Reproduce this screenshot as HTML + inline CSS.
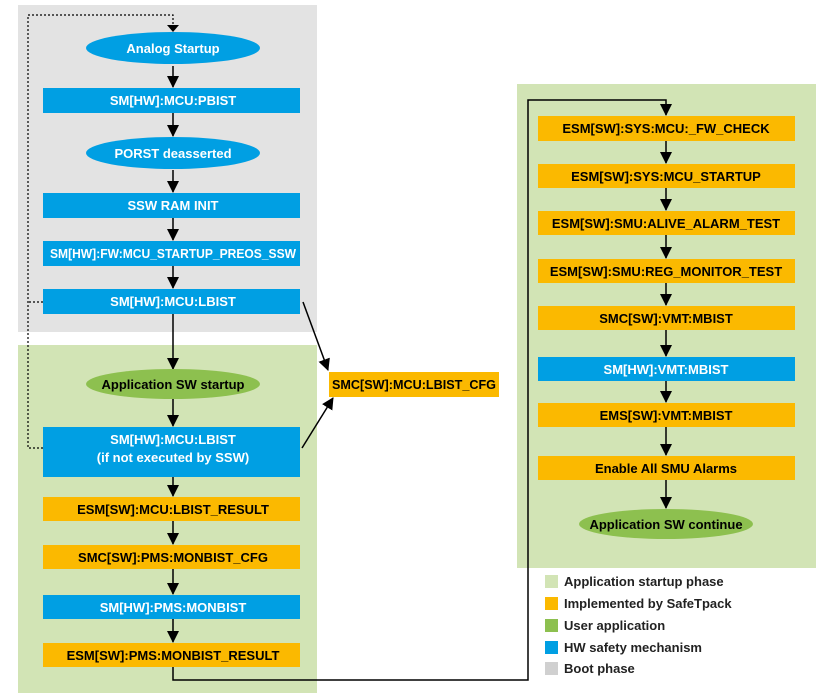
<!DOCTYPE html>
<html><head><meta charset="utf-8"><style>
html,body{margin:0;padding:0;background:#fff;width:827px;height:700px;overflow:hidden}
text{font-family:"Liberation Sans Narrow","Liberation Sans",sans-serif;font-weight:bold;font-size:13px}
.w{fill:#fff}.b{fill:#000}
.lg{font-family:"Liberation Sans",sans-serif;font-size:13px;font-weight:bold;fill:#222}
</style></head><body>
<svg width="827" height="700" viewBox="0 0 827 700" xmlns="http://www.w3.org/2000/svg">
<defs><marker id="a" markerWidth="12" markerHeight="12" refX="11" refY="6" orient="auto" markerUnits="userSpaceOnUse"><path d="M0,0 L12,6 L0,12 z" fill="#000"/></marker></defs>
<rect x="18" y="5" width="299" height="327" fill="#e3e3e3"/>
<rect x="18" y="345" width="299" height="348" fill="#d2e4b5"/>
<rect x="517" y="84" width="299" height="484" fill="#d2e4b5"/>
<g stroke="#000" stroke-width="1.5" fill="none" marker-end="url(#a)">
<line x1="173" y1="66" x2="173" y2="87"/>
<line x1="173" y1="113" x2="173" y2="136"/>
<line x1="173" y1="170" x2="173" y2="192"/>
<line x1="173" y1="218" x2="173" y2="240"/>
<line x1="173" y1="266" x2="173" y2="288"/>
<line x1="173" y1="314" x2="173" y2="369"/>
<line x1="173" y1="399" x2="173" y2="426"/>
<line x1="173" y1="477" x2="173" y2="496"/>
<line x1="173" y1="521" x2="173" y2="544"/>
<line x1="173" y1="569" x2="173" y2="594"/>
<line x1="173" y1="619" x2="173" y2="642"/>
<line x1="303" y1="302" x2="328" y2="370"/>
<line x1="302" y1="448" x2="333" y2="398"/>
<polyline points="173,667 173,680 528,680 528,100 666,100 666,115"/>
<line x1="666" y1="141" x2="666" y2="163"/>
<line x1="666" y1="188" x2="666" y2="210"/>
<line x1="666" y1="235" x2="666" y2="258"/>
<line x1="666" y1="283" x2="666" y2="305"/>
<line x1="666" y1="330" x2="666" y2="356"/>
<line x1="666" y1="381" x2="666" y2="402"/>
<line x1="666" y1="427" x2="666" y2="455"/>
<line x1="666" y1="480" x2="666" y2="508"/>
</g>
<g stroke="#000" stroke-width="1.2" fill="none" stroke-dasharray="2,2">
<polyline points="43,302 28,302"/>
<polyline points="43,448 28,448 28,15 173,15 173,26"/>
</g>
<path d="M167,25 L179,25 L173,32 z" fill="#000"/>
<g fill="#009fe3">
<ellipse cx="173" cy="48" rx="87" ry="16"/>
<rect x="43" y="88" width="257" height="25"/>
<ellipse cx="173" cy="153" rx="87" ry="16"/>
<rect x="43" y="193" width="257" height="25"/>
<rect x="43" y="241" width="257" height="25"/>
<rect x="43" y="289" width="257" height="25"/>
<rect x="43" y="427" width="257" height="50"/>
<rect x="43" y="595" width="257" height="24"/>
<rect x="538" y="357" width="257" height="24"/>
</g>
<ellipse cx="173" cy="384" rx="87" ry="15" fill="#8dc04f"/>
<ellipse cx="666" cy="524" rx="87" ry="15" fill="#8dc04f"/>
<g fill="#fbb900">
<rect x="43" y="497" width="257" height="24"/>
<rect x="43" y="545" width="257" height="24"/>
<rect x="43" y="643" width="257" height="24"/>
<rect x="329" y="372" width="170" height="25"/>
<rect x="538" y="116" width="257" height="25"/>
<rect x="538" y="164" width="257" height="24"/>
<rect x="538" y="211" width="257" height="24"/>
<rect x="538" y="259" width="257" height="24"/>
<rect x="538" y="306" width="257" height="24"/>
<rect x="538" y="403" width="257" height="24"/>
<rect x="538" y="456" width="257" height="24"/>
</g>
<g text-anchor="middle">
<text class="w" x="173" y="53">Analog Startup</text>
<text class="w" x="173" y="105">SM[HW]:MCU:PBIST</text>
<text class="w" x="173" y="158">PORST deasserted</text>
<text class="w" x="173" y="210">SSW RAM INIT</text>
<text class="w" x="173" y="258" textLength="246" lengthAdjust="spacingAndGlyphs">SM[HW]:FW:MCU_STARTUP_PREOS_SSW</text>
<text class="w" x="173" y="306">SM[HW]:MCU:LBIST</text>
<text class="b" x="173" y="389">Application SW startup</text>
<text class="w" x="173" y="444">SM[HW]:MCU:LBIST</text>
<text class="w" x="173" y="462">(if not executed by SSW)</text>
<text class="b" x="173" y="514">ESM[SW]:MCU:LBIST_RESULT</text>
<text class="b" x="173" y="562">SMC[SW]:PMS:MONBIST_CFG</text>
<text class="w" x="173" y="612">SM[HW]:PMS:MONBIST</text>
<text class="b" x="173" y="660">ESM[SW]:PMS:MONBIST_RESULT</text>
<text class="b" x="414" y="389" textLength="164" lengthAdjust="spacingAndGlyphs">SMC[SW]:MCU:LBIST_CFG</text>
<text class="b" x="666" y="133">ESM[SW]:SYS:MCU:_FW_CHECK</text>
<text class="b" x="666" y="181">ESM[SW]:SYS:MCU_STARTUP</text>
<text class="b" x="666" y="228">ESM[SW]:SMU:ALIVE_ALARM_TEST</text>
<text class="b" x="666" y="276">ESM[SW]:SMU:REG_MONITOR_TEST</text>
<text class="b" x="666" y="323">SMC[SW]:VMT:MBIST</text>
<text class="w" x="666" y="374">SM[HW]:VMT:MBIST</text>
<text class="b" x="666" y="420">EMS[SW]:VMT:MBIST</text>
<text class="b" x="666" y="473">Enable All SMU Alarms</text>
<text class="b" x="666" y="529">Application SW continue</text>
</g>
<rect x="545" y="575" width="13" height="13" fill="#d2e4b5"/>
<rect x="545" y="597" width="13" height="13" fill="#fbb900"/>
<rect x="545" y="619" width="13" height="13" fill="#8dc04f"/>
<rect x="545" y="641" width="13" height="13" fill="#009fe3"/>
<rect x="545" y="662" width="13" height="13" fill="#d0d0d0"/>
<text class="lg" x="564" y="586">Application startup phase</text>
<text class="lg" x="564" y="608">Implemented by SafeTpack</text>
<text class="lg" x="564" y="630">User application</text>
<text class="lg" x="564" y="652">HW safety mechanism</text>
<text class="lg" x="564" y="673">Boot phase</text>
</svg>
</body></html>
